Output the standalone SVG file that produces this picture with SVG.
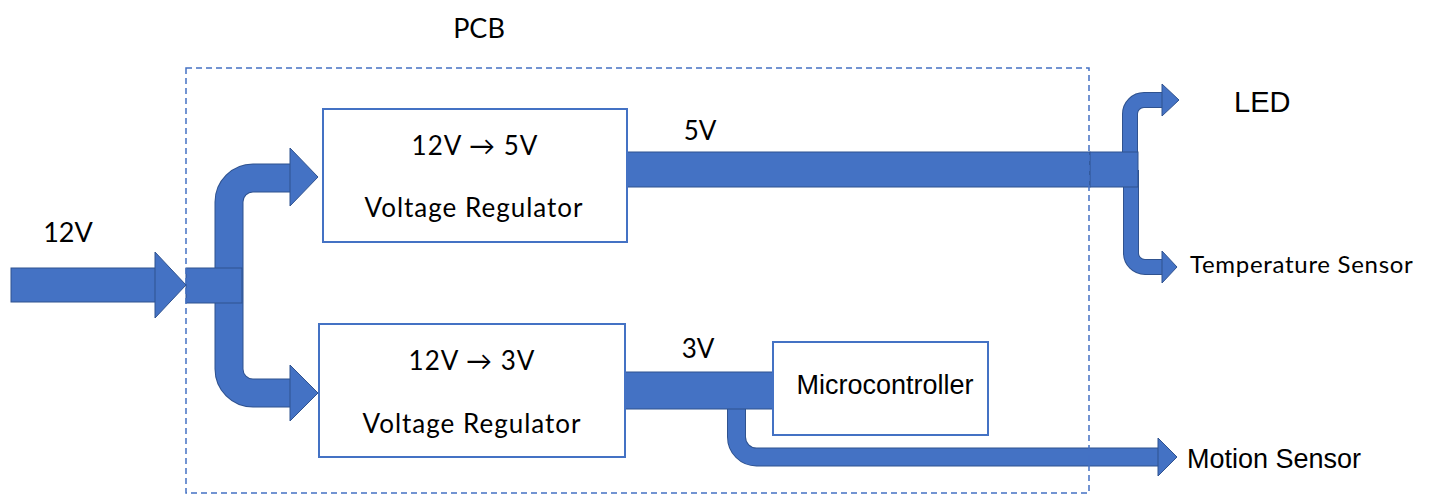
<svg xmlns="http://www.w3.org/2000/svg" width="1431" height="495" viewBox="0 0 1431 495">
<style>
.bar{fill:#4472C4;stroke:#2F528F;stroke-width:1}
.pipeo{fill:none;stroke:#2F528F}
.pipe{fill:none;stroke:#4472C4}
.box{fill:#fff;stroke:#4472C4;stroke-width:2}
.cal{font-family:Lato,"Open Sans",sans-serif;fill:#000}
.ari{font-family:"Liberation Sans",Arial,sans-serif;fill:#000}
.reg{font-size:26px;letter-spacing:1px}
.pcb{fill:none;stroke:#4472C4;stroke-width:1.5;stroke-dasharray:6 4}
</style>
<rect width="1431" height="495" fill="#fff"/>
<g id="connectors">
  <!-- input 12V -->
  <rect class="bar" x="11" y="268" width="145" height="34"/>
  <polygon class="bar" points="155,252 186,285 155,318"/>
  <!-- left branches -->
  <path class="pipeo" stroke-width="29" d="M229,285 L229,202 A24,24 0 0 1 253,178 L292,178"/>
  <path class="pipe" stroke-width="27" d="M229,285 L229,202 A24,24 0 0 1 253,178 L292,178"/>
  <polygon class="bar" points="290,148 318,177 290,206"/>
  <path class="pipeo" stroke-width="29" d="M229,285 L229,369 A24,24 0 0 0 253,393 L292,393"/>
  <path class="pipe" stroke-width="27" d="M229,285 L229,369 A24,24 0 0 0 253,393 L292,393"/>
  <polygon class="bar" points="290,365 318,393 290,421"/>
  <rect class="bar" x="186" y="268" width="56" height="35"/>
  <!-- 5V bus -->
  <path class="pipeo" stroke-width="16" d="M1130,170 L1130,114 A14,14 0 0 1 1144,100 L1164,100"/>
  <path class="pipe" stroke-width="14" d="M1130,170 L1130,114 A14,14 0 0 1 1144,100 L1164,100"/>
  <polygon class="bar" points="1162,84 1179,100 1162,116"/>
  <path class="pipeo" stroke-width="16" d="M1131,170 L1131,253 A14,14 0 0 0 1145,267 L1164,267"/>
  <path class="pipe" stroke-width="14" d="M1131,170 L1131,253 A14,14 0 0 0 1145,267 L1164,267"/>
  <polygon class="bar" points="1162,251 1177,267 1162,283"/>
  <rect class="bar" x="627" y="152" width="463" height="35"/>
  <rect class="bar" x="1090" y="152" width="48" height="35"/>
  <!-- 3V bus -->
  <path class="pipeo" stroke-width="19" d="M736.5,400 L736.5,437 A20,20 0 0 0 756.5,457 L1160,457"/>
  <path class="pipe" stroke-width="17" d="M736.5,400 L736.5,437 A20,20 0 0 0 756.5,457 L1160,457"/>
  <polygon class="bar" points="1158,438 1177,457 1158,476"/>
  <rect class="bar" x="625" y="372" width="148" height="37"/>
</g>
<g id="reg5">
  <rect class="box" x="323" y="109" width="304" height="133"/>
  <text class="cal reg" x="475" y="155" text-anchor="middle">12V → 5V</text>
  <text class="cal reg" x="474" y="217" text-anchor="middle">Voltage Regulator</text>
</g>
<g id="reg3">
  <rect class="box" x="319" y="324" width="306" height="133"/>
  <text class="cal reg" x="472" y="370" text-anchor="middle">12V → 3V</text>
  <text class="cal reg" x="472" y="433" text-anchor="middle">Voltage Regulator</text>
</g>
<g id="mcu">
  <rect class="box" x="773" y="342" width="215" height="93"/>
  <text class="ari" x="885" y="394" font-size="27" text-anchor="middle">Microcontroller</text>
</g>
<g id="labels">
  <text class="cal" x="479" y="38" font-size="27" text-anchor="middle">PCB</text>
  <text class="cal" x="68" y="242" font-size="27" text-anchor="middle">12V</text>
  <text class="cal" x="700" y="140" font-size="26" text-anchor="middle">5V</text>
  <text class="cal" x="698" y="358" font-size="26" text-anchor="middle">3V</text>
  <text class="ari" x="1234" y="112" font-size="29">LED</text>
  <text class="cal" x="1190" y="273" font-size="24" letter-spacing="0.7">Temperature Sensor</text>
  <text class="ari" x="1187" y="468" font-size="27">Motion Sensor</text>
</g>
<g id="pcb">
  <rect class="pcb" x="186" y="68" width="903" height="425"/>
</g>
</svg>
